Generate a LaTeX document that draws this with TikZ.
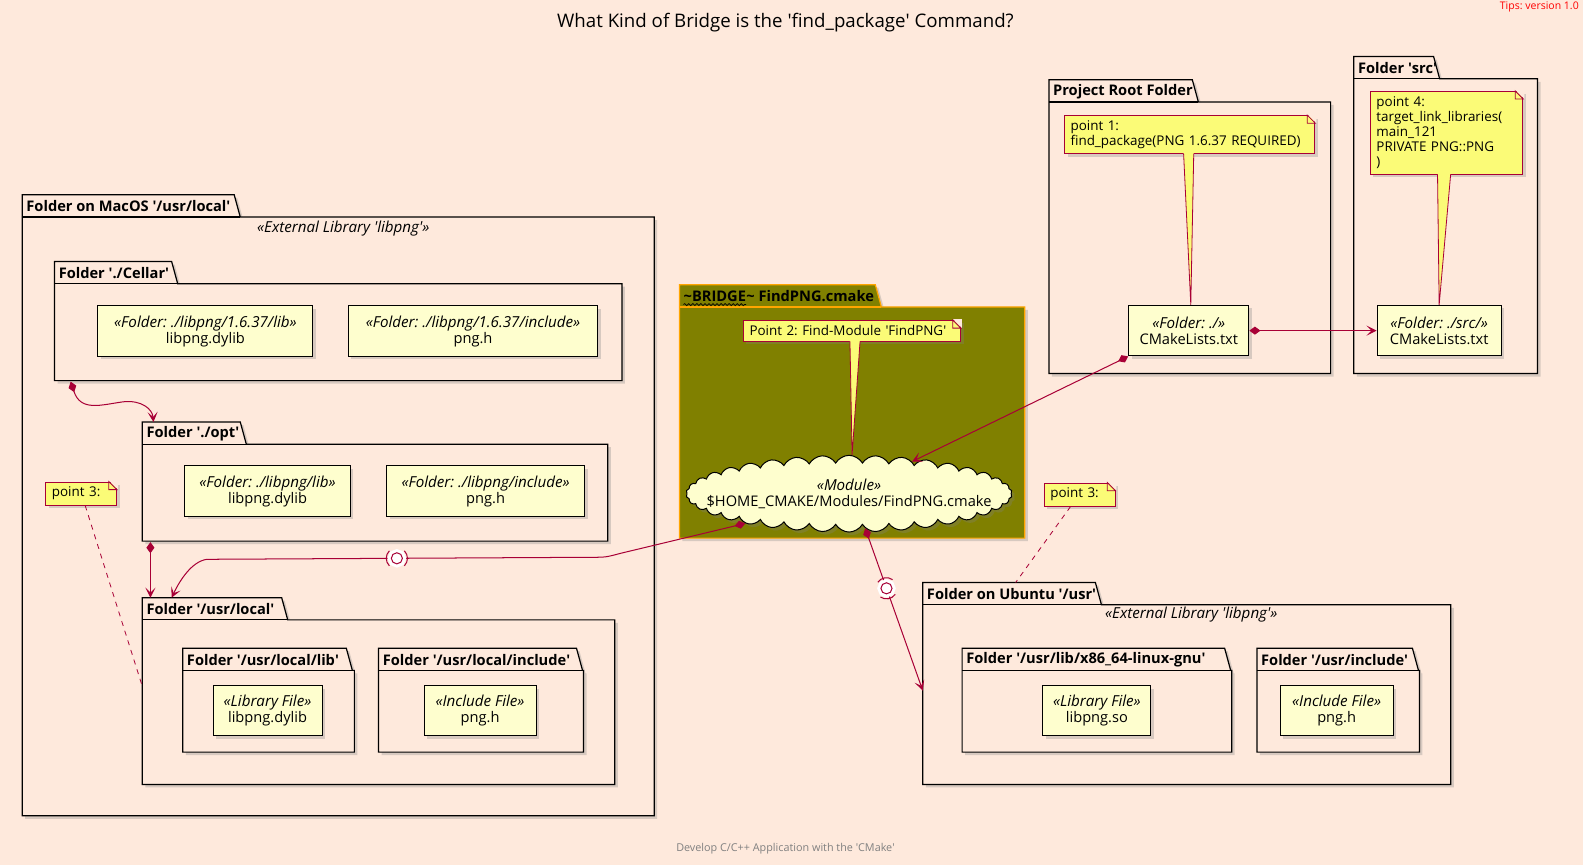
\documentclass[tikz,border=0pt]{standalone}
\usepackage{fontspec}
\setmainfont{Open Sans}
\usepackage{tikz}
\usetikzlibrary{arrows.meta,shapes.symbols,shadows,positioning,decorations.pathmorphing}
\frenchspacing

\definecolor{pagebg}{RGB}{254,233,220}
\definecolor{boxfill}{RGB}{254,254,206}
\definecolor{notefill}{RGB}{251,251,119}
\definecolor{umlred}{RGB}{168,0,54}
\definecolor{bridgefill}{RGB}{128,128,0}
\definecolor{bridgeline}{RGB}{255,165,0}

% package frame: [style]{left}{tab top}{tab right}{right}{bottom}{title}
\newcommand\pkgframe[7][pkg]{
	\draw[#1] (#2,#3) -- (#4,#3) -- (#4+6,#3+22) -- (#5,#3+22) -- (#5,#6) -- (#2,#6) -- cycle;
	\draw[#1 rule] (#2,#3+22) -- (#4+6,#3+22);
	\node[pkgtitle] at (#2+4,#3+11.5) {#7};
}
% note with folded corner: name, top left, text width, text
\newcommand\umlnote[4]{
	\node[notebox,text width=#3] (#1) at (#2) {#4};
	\fill[pagebg] ([xshift=-8pt,yshift=1pt]#1.north east) -- ([xshift=1pt,yshift=1pt]#1.north east) -- ([xshift=1pt,yshift=-8pt]#1.north east) -- cycle;
	\draw[umlred,line width=.8pt] ([xshift=-8pt]#1.north east) -- ([yshift=-8pt]#1.north east) -- ([xshift=-8pt,yshift=-8pt]#1.north east) -- cycle;
}
\newcommand\sq{\textquotesingle}
\newcommand\stereo[1]{{\itshape\fontsize{15}{16}\selectfont «#1»}}
% arcs round a ball: node, direction of the line
\newcommand\sockarcs[2]{
	\draw[umlred,line width=1pt] ([shift={(#2-45:10.5pt)}]#1.center) arc[start angle=#2-45,end angle=#2+45,radius=10.5pt];
	\draw[umlred,line width=1pt] ([shift={(#2+135:10.5pt)}]#1.center) arc[start angle=#2+135,end angle=#2+225,radius=10.5pt];
}

\begin{document}
\begin{tikzpicture}[x=1pt,y=-1pt,
	softshadow/.style={drop shadow={shadow xshift=3pt,shadow yshift=-3pt,opacity=.3}},
	pkg/.style={draw=black,line width=1.2pt,fill=pagebg,softshadow},
	pkg rule/.style={draw=black,line width=1.2pt},
	bridgepkg/.style={draw=bridgeline,line width=1.2pt,fill=bridgefill,softshadow},
	bridgepkg rule/.style={draw=bridgeline,line width=1.2pt},
	pkgtitle/.style={anchor=west,inner sep=0pt,font=\bfseries\fontsize{14.5}{16}\selectfont},
	filebox/.style={draw=black,fill=boxfill,line width=1pt,minimum height=50pt,align=center,inner sep=2pt,font=\fontsize{14.5}{16}\selectfont,softshadow},
	notebox/.style={draw=umlred,fill=notefill,line width=.8pt,anchor=north west,align=left,inner xsep=6pt,inner ysep=5pt,font=\fontsize{13.3}{15}\selectfont,softshadow},
	comp/.style={umlred,line width=1pt,{Diamond[length=11pt,width=8pt]}-{Stealth[length=10pt,width=10pt,inset=5pt]}},
	ball/.style={circle,draw=umlred,fill=white,line width=1pt,minimum size=11pt,inner sep=0pt,preaction={draw=white,line width=7pt}},
	noteline/.style={umlred,line width=.8pt,dash pattern=on 5pt off 5pt}
]
	\fill[pagebg] (0,0) rectangle (1568,857);
	\useasboundingbox (0,0) rectangle (1568,857);

	\node[font=\fontsize{18.5}{22}\selectfont] (title) at (778,22) {What Kind of Bridge is the \sq find\_package\sq{} Command?};
	\node[anchor=east,inner sep=0pt,text=red,font=\fontsize{10.4}{12}\selectfont] (tips) at (1564,7) {Tips: version 1.0};
	\node[text=gray,font=\fontsize{10.7}{12}\selectfont] (footer) at (778,841) {Develop C/C++ Application with the \sq CMake\sq};

	% MacOS side
	\pkgframe{22}{193}{232}{648}{808}{Folder on MacOS \sq/usr/local\sq}
	\node (macos-st) at (340,226) {\stereo{External Library \sq libpng\sq}};
	\pkgframe{54}{259}{170}{616}{377}{Folder \sq./Cellar\sq}
	\node[filebox,minimum width=213pt] (cellar-lib) at (203.5,328) {\stereo{Folder: ./libpng/1.6.37/lib}\\libpng.dylib};
	\node[filebox,minimum width=247pt] (cellar-inc) at (468.5,328) {\stereo{Folder: ./libpng/1.6.37/include}\\png.h};
	\pkgframe{141}{418}{238}{602}{536}{Folder \sq./opt\sq}
	\node[filebox,minimum width=164pt] (opt-lib) at (265,486.5) {\stereo{Folder: ./libpng/lib}\\libpng.dylib};
	\node[filebox,minimum width=196pt] (opt-inc) at (481,486.5) {\stereo{Folder: ./libpng/include}\\png.h};
	\pkgframe{141}{592}{279}{609}{777}{Folder \sq/usr/local\sq}
	\pkgframe{181}{642}{343}{351}{745}{Folder \sq/usr/local/lib\sq}
	\node[filebox,minimum width=108pt] (local-lib) at (265,704) {\stereo{Library File}\\libpng.dylib};
	\pkgframe{375}{642}{571}{578}{745}{Folder \sq/usr/local/include\sq}
	\node[filebox,minimum width=111pt] (local-inc) at (475.5,704) {\stereo{Include File}\\png.h};

	% the bridge
	\pkgframe[bridgepkg]{673}{282}{867}{1015}{533}{}
	\node[pkgtitle] (brtitle) at (677,293.5) {\textasciitilde BRIDGE};
	\node[pkgtitle,base right=0pt of brtitle] (brname) {\textasciitilde{} FindPNG.cmake};
	\draw[black,line width=.7pt,decorate,decoration={snake,amplitude=1pt,segment length=4pt}] ([yshift=-3pt]brtitle.base west) -- ([yshift=-3pt]brtitle.base east);
	\node[cloud,cloud puffs=38,cloud puff arc=120,cloud ignores aspect,minimum width=323pt,minimum height=76pt,draw=black,fill=boxfill,line width=1pt,softshadow] (findpng) at (841,489) {};
	\node[align=center,font=\fontsize{14.5}{16}\selectfont] (findpng-text) at (findpng.center) {\stereo{Module}\\\$HOME\_CMAKE/Modules/FindPNG.cmake};

	% project
	\pkgframe{1039}{79}{1181}{1318}{370}{Project Root Folder}
	\node[filebox,minimum width=119pt] (rootcml) at (1177.5,327.5) {\stereo{Folder: ./}\\CMakeLists.txt};
	\pkgframe{1341}{56}{1420}{1523}{370}{Folder \sq src\sq}
	\node[filebox,minimum width=123pt] (srccml) at (1425.5,327.5) {\stereo{Folder: ./src/}\\CMakeLists.txt};

	% Ubuntu side
	\pkgframe{914}{577}{1085}{1437}{777}{Folder on Ubuntu \sq/usr\sq}
	\node (ubuntu-st) at (1180,609) {\stereo{External Library \sq libpng\sq}};
	\pkgframe{953}{642}{1213}{1220}{745}{Folder \sq/usr/lib/x86\_64-linux-gnu\sq}
	\node[filebox,minimum width=107pt] (ubuntu-lib) at (1086.5,704) {\stereo{Library File}\\libpng.so};
	\pkgframe{1245}{642}{1399}{1406}{745}{Folder \sq/usr/include\sq}
	\node[filebox,minimum width=112pt] (ubuntu-inc) at (1324,704) {\stereo{Include File}\\png.h};

	% notes
	\umlnote{point1}{1054,114}{236pt}{point 1:\\find\_package(PNG 1.6.37 REQUIRED)}
	\umlnote{point4}{1357,90}{139pt}{point 4:\\target\_link\_libraries(\\main\_121\\PRIVATE PNG::PNG\\)}
	\umlnote{point2}{736,317}{203pt}{Point 2: Find-Module \sq FindPNG\sq}
	\umlnote{point3a}{45,477}{58pt}{point 3:}
	\umlnote{point3b}{1034,478}{58pt}{point 3:}

	\fill[notefill] ([xshift=-6pt,yshift=1pt]point1.south) -- ([xshift=2pt]rootcml.north) -- ([xshift=4pt,yshift=1pt]point1.south) -- cycle;
	\draw[umlred,line width=.8pt] ([xshift=-6pt]point1.south) -- ([xshift=2pt]rootcml.north) -- ([xshift=4pt]point1.south);
	\fill[notefill] ([xshift=-9pt,yshift=1pt]point4.south) -- (srccml.north) -- ([xshift=4pt,yshift=1pt]point4.south) -- cycle;
	\draw[umlred,line width=.8pt] ([xshift=-9pt]point4.south) -- (srccml.north) -- ([xshift=4pt]point4.south);
	\fill[notefill] ([xshift=-2pt,yshift=1pt]point2.south) -- ([xshift=3pt]findpng.north) -- ([xshift=8pt,yshift=1pt]point2.south) -- cycle;
	\draw[umlred,line width=.8pt] ([xshift=-2pt]point2.south) -- ([xshift=3pt]findpng.north) -- ([xshift=8pt]point2.south);

	% connectors
	\coordinate (cellar-s) at (70,378);
	\coordinate (opt-n) at (152,418);
	\coordinate (opt-s) at (149,537);
	\coordinate (local-n1) at (149,592);
	\coordinate (local-n2) at (170,592);
	\coordinate (local-w) at (141,680);
	\coordinate (ubuntu-w) at (914,684);
	\coordinate (ubuntu-n) at (1006,577);

	\draw[comp] (cellar-s) .. controls (80,408) and (100,401) .. (122,398) .. controls (140,396) and (151,405) .. (opt-n);
	\draw[comp] (opt-s) -- (local-n1);
	\draw[comp] (findpng.196) -- (615,548) .. controls (600,552) .. (585,552) -- node[ball,pos=.505] (sock1) {} (205,554) .. controls (190,556) and (178,575) .. (local-n2);
	\sockarcs{sock1}{0}
	\draw[comp] (findpng.295) -- node[ball,pos=.37] (sock2) {} (ubuntu-w);
	\sockarcs{sock2}{-80}
	\draw[comp] (rootcml.south west) -- (findpng.27);
	\draw[comp] (rootcml.east) -- (srccml.west);

	\draw[noteline] ([xshift=4pt]point3a.south) -- (local-w);
	\draw[noteline] ([xshift=-9pt]point3b.south) -- (ubuntu-n);
\end{tikzpicture}
\end{document}
